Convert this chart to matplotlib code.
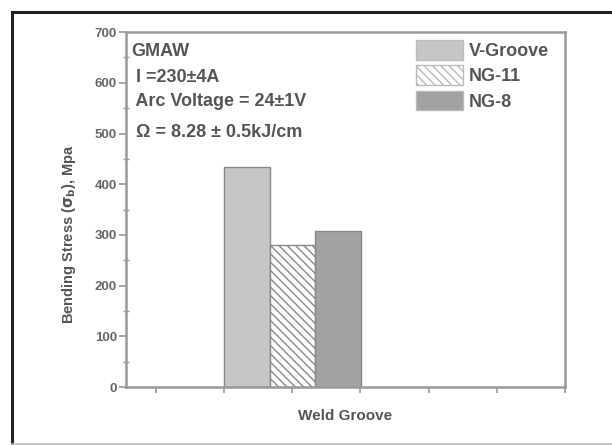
import matplotlib

matplotlib.use("Agg")

import matplotlib.pyplot as plt
from matplotlib.lines import Line2D
from matplotlib.patches import Patch
from matplotlib.ticker import MultipleLocator

plt.rcParams["font.family"] = ["Liberation Sans", "DejaVu Sans"]
plt.rcParams["font.weight"] = "bold"
plt.rcParams["axes.labelweight"] = "bold"
plt.rcParams["mathtext.default"] = "bf"
plt.rcParams["hatch.color"] = "#9a9a9a"
plt.rcParams["hatch.linewidth"] = 1.0

grooves = ["V-Groove", "NG-11", "NG-8"]
stress = [433, 281, 307]           # bending stress, MPa
fills = ["#c6c6c6", "white", "#a2a2a2"]
hatches = [None, "\\\\\\\\", None]
notes = ["GMAW", " I =230±4A", " Arc Voltage = 24±1V", " Ω = 8.28 ± 0.5kJ/cm"]

GREY = "#999999"
TXT = "#555555"

fig = plt.figure(figsize=(6.12, 4.45), dpi=100)
ax = fig.add_axes([0.206, 0.130, 0.717, 0.798])

width = 0.67
centre = 3.0
for i, (g, v, c, h) in enumerate(zip(grooves, stress, fills, hatches)):
    ax.bar(centre + (i - 1) * width, v, width=width, color=c, hatch=h,
           edgecolor="#888888", linewidth=1.0, label=g, zorder=2)

ax.set_xlim(0.56, 7)
ax.set_ylim(0, 700)
ax.set_xticks(range(1, 8))
ax.set_xticklabels([])
ax.yaxis.set_major_locator(MultipleLocator(100))
ax.yaxis.set_minor_locator(MultipleLocator(50))
ax.tick_params(axis="x", direction="out", length=4, width=1.2, color=GREY)
ax.tick_params(axis="y", which="major", direction="out", length=5, width=1.2,
               color=GREY, labelsize=9.5, labelcolor="#666666", pad=1.5)
ax.tick_params(axis="y", which="minor", direction="inout", length=4, width=1.0,
               color=GREY)
for lab in ax.get_yticklabels():
    lab.set_fontweight("bold")
for s in ax.spines.values():
    s.set_color(GREY)
    s.set_linewidth(1.8)

ax.set_xlabel("Weld Groove", fontsize=11, color=TXT, labelpad=8,
              fontweight="bold")
ax.set_ylabel(r"Bending Stress ($\sigma_b$), Mpa", fontsize=10.5, color=TXT,
              fontweight="bold")
ax.yaxis.set_label_coords(-0.11, 0.43)

ys = [0.946, 0.873, 0.803, 0.718]
for t, yy in zip(notes, ys):
    ax.text(0.012, yy, t, transform=ax.transAxes, fontsize=13, color=TXT,
            fontweight="bold", va="center", ha="left")

handles = [Patch(facecolor=c, edgecolor="#bbbbbb", hatch=h, label=g)
           for g, c, h in zip(grooves, fills, hatches)]
leg = ax.legend(handles=handles, loc="upper right", frameon=False,
                fontsize=13, handlelength=2.6, handleheight=1.3,
                handletextpad=0.3, labelspacing=0.3,
                bbox_to_anchor=(0.992, 1.013), borderaxespad=0.3)
for t in leg.get_texts():
    t.set_color(TXT)

# outer frame of the figure panel
fig.add_artist(Line2D([12 / 612, 12 / 612], [0.002, 1 - 12 / 445],
                      color="#222222", lw=2.2, transform=fig.transFigure))
fig.add_artist(Line2D([12 / 612, 1.0], [1 - 12 / 445, 1 - 12 / 445],
                      color="#222222", lw=2.2, transform=fig.transFigure))
fig.add_artist(Line2D([12 / 612, 1.0], [0.002, 0.002],
                      color="#bbbbbb", lw=1.2, transform=fig.transFigure))

fig.savefig("out.png", dpi=100)
